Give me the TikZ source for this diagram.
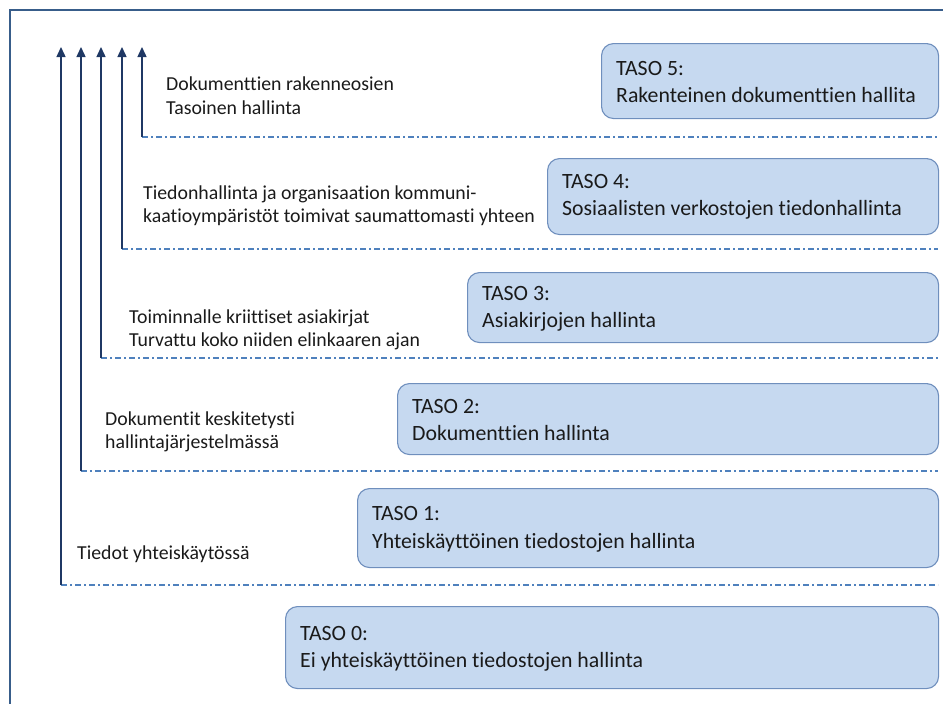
\documentclass[tikz,border=0pt]{standalone}
\usepackage{fontspec}
\setmainfont{Carlito}[Ligatures=NoCommon]
\usetikzlibrary{arrows.meta}
\definecolor{frameblue}{HTML}{385D8A}
\definecolor{arrowblue}{HTML}{1F3864}
\definecolor{dashblue}{HTML}{4F81BD}
\definecolor{boxfill}{HTML}{C6D9F0}
\definecolor{boxedge}{HTML}{6F8FBD}
\definecolor{txt}{HTML}{1A1A1A}
\tikzset{
  framestyle/.style={draw=frameblue, line width=2.8pt},
  arrowline/.style={draw=arrowblue, line width=1.4pt, -{Triangle[length=10pt,width=9pt]}},
  dashline/.style={draw=dashblue, line width=1.3pt, dash pattern=on 6pt off 3pt on 2pt off 3pt},
  levelbox/.style={draw=boxedge, fill=boxfill, rounded corners=12pt, line width=1.1pt, anchor=north west, inner sep=0pt},
  boxtext/.style={anchor=west, align=left, inner sep=0pt, text=txt, font=\fontsize{21.8}{27.5}\selectfont},
  sidetext/.style={anchor=base west, align=left, inner sep=0pt, text=txt, font=\fontsize{19.8}{23.5}\selectfont}
}
\begin{document}
\begin{tikzpicture}[x=1pt,y=-1pt]
\useasboundingbox (0,0) rectangle (943,704);
% outer frame
\coordinate (fbl) at (10,704);
\coordinate (ftl) at (10,10);
\coordinate (ftr) at (943,10);
\draw[framestyle] (fbl) -- (ftl) -- (ftr);

% corners of arrows / dashed lines
\coordinate (c5) at (142,137);  \coordinate (e5) at (938,137);  \coordinate (a5) at (142,47);
\coordinate (c4) at (122,249);  \coordinate (e4) at (938,249);  \coordinate (a4) at (122,47);
\coordinate (c3) at (101,358);  \coordinate (e3) at (938,358);  \coordinate (a3) at (101,47);
\coordinate (c2) at (81,471);   \coordinate (e2) at (938,471);  \coordinate (a2) at (81,47);
\coordinate (c1) at (61,585);   \coordinate (e1) at (938,585);  \coordinate (a1) at (61,47);

\foreach \i in {1,...,5}{
  \draw[dashline] (c\i) -- (e\i);
  \draw[arrowline] (c\i) -- (a\i);
}

% level boxes
\node[levelbox, minimum width=337pt, minimum height=75pt] (b5) at (601,43) {};
\node[levelbox, minimum width=391pt, minimum height=76pt] (b4) at (547,158) {};
\node[levelbox, minimum width=471pt, minimum height=70pt] (b3) at (467,272) {};
\node[levelbox, minimum width=541pt, minimum height=71pt] (b2) at (397,383) {};
\node[levelbox, minimum width=581pt, minimum height=79pt] (b1) at (357,488) {};
\node[levelbox, minimum width=653pt, minimum height=82pt] (b0) at (285,606) {};

\node[boxtext] (t5) at ([xshift=15pt,yshift=-1pt]b5.west) {TASO 5:\\Rakenteinen dokumenttien hallita};
\node[boxtext] (t4) at ([xshift=15pt,yshift=0pt]b4.west) {TASO 4:\\Sosiaalisten verkostojen tiedonhallinta};
\node[boxtext] (t3) at ([xshift=15pt,yshift=-1pt]b3.west) {TASO 3:\\Asiakirjojen hallinta};
\node[boxtext] (t2) at ([xshift=15pt,yshift=-1pt]b2.west) {TASO 2:\\Dokumenttien hallinta};
\node[boxtext] (t1) at ([xshift=15pt,yshift=-1pt]b1.west) {TASO 1:\\Yhteiskäyttöinen tiedostojen hallinta};
\node[boxtext] (t0) at ([xshift=15pt,yshift=-1pt]b0.west) {TASO 0:\\Ei yhteiskäyttöinen tiedostojen hallinta};

% side texts (anchored at the baseline of their last line)
\node[sidetext] (s5) at (166,114) {Dokumenttien rakenneosien\\Tasoinen hallinta};
\node[sidetext] (s4) at (143,222.5) {Tiedonhallinta ja organisaation kommuni-\\kaatioympäristöt toimivat saumattomasti yhteen};
\node[sidetext] (s3) at (129,346.5) {Toiminnalle kriittiset asiakirjat\\Turvattu koko niiden elinkaaren ajan};
\node[sidetext] (s2) at (105,448.5) {Dokumentit keskitetysti\\hallintajärjestelmässä};
\node[sidetext] (s1) at (77,559) {Tiedot yhteiskäytössä};
\end{tikzpicture}
\end{document}
